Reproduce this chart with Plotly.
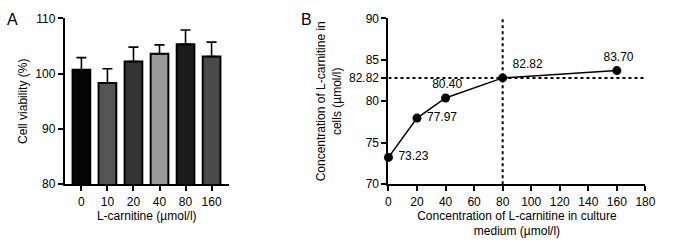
import plotly.graph_objects as go

# Panel A data
doses = ["0", "10", "20", "40", "80", "160"]
viability = [100.7, 98.3, 102.2, 103.6, 105.3, 103.1]
viability_err = [2.2, 2.6, 2.6, 1.6, 2.6, 2.6]
bar_colors = ["#050505", "#555555", "#333333", "#9a9a9a", "#1c1c1c", "#4a4a4a"]

# Panel B data
medium_conc = [0, 20, 40, 80, 160]
cell_conc = [73.23, 77.97, 80.40, 82.82, 83.70]
point_labels = ["73.23", "77.97", "80.40", "82.82", "83.70"]
label_pos = ["middle right", "middle right", "top center", "top right", "top center"]
ref_x = 80
ref_y = 82.82
b_yticks = [70, 75, 80, 82.82, 85, 90]
b_xticks = [0, 20, 40, 60, 80, 100, 120, 140, 160, 180]

FONT = "Liberation Sans, Arial, sans-serif"
FS = 12

fig = go.Figure()

fig.add_trace(go.Bar(
    x=doses, y=viability, base=0,
    marker=dict(color=bar_colors, line=dict(color="black", width=2)),
    width=0.68,
    error_y=dict(type="data", array=viability_err, symmetric=False,
                 arrayminus=[0]*len(viability_err),
                 color="black", thickness=1.6, width=5),
    xaxis="x", yaxis="y", showlegend=False,
))

# reference dotted lines in panel B
fig.add_trace(go.Scatter(
    x=[0, 180], y=[ref_y, ref_y], mode="lines",
    line=dict(color="black", width=2, dash="dot"),
    xaxis="x2", yaxis="y2", showlegend=False, hoverinfo="skip",
))
fig.add_trace(go.Scatter(
    x=[ref_x, ref_x], y=[70, 90], mode="lines",
    line=dict(color="black", width=2, dash="dot"),
    xaxis="x2", yaxis="y2", showlegend=False, hoverinfo="skip",
))

fig.add_trace(go.Scatter(
    x=medium_conc, y=cell_conc, mode="lines+markers+text",
    line=dict(color="black", width=1.5),
    marker=dict(color="black", size=9),
    text=[" " + t for t in point_labels], textposition=label_pos,
    textfont=dict(size=FS, color="black", family=FONT),
    xaxis="x2", yaxis="y2", showlegend=False, cliponaxis=False,
))

axis_common = dict(showline=True, linecolor="black", linewidth=2,
                   ticks="outside", tickcolor="black", tickwidth=2, ticklen=5,
                   showgrid=False, zeroline=False,
                   tickfont=dict(size=FS, color="black", family=FONT))

fig.update_layout(
    width=677, height=242,
    margin=dict(l=0, r=0, t=0, b=0),
    paper_bgcolor="white", plot_bgcolor="white",
    font=dict(family=FONT, size=FS, color="black"),
    xaxis=dict(domain=[0.093, 0.340], anchor="y", range=[-0.64, 5.66],
               type="category",
               title=dict(text="L-carnitine (µmol/l)", standoff=3,
                          font=dict(size=FS)),
               **axis_common),
    yaxis=dict(domain=[0.223, 0.950], anchor="x", range=[80, 110],
               tickvals=[80, 90, 100, 110],
               title=dict(text="Cell viability (%)", standoff=5,
                          font=dict(size=FS)),
               **axis_common),
    xaxis2=dict(domain=[0.5805, 0.9675], anchor="y2", range=[0, 180],
                tickvals=b_xticks,
                title=dict(text="Concentration of L-carnitine in culture<br>medium (µmol/l)",
                           standoff=3, font=dict(size=FS)),
                **axis_common),
    yaxis2=dict(domain=[0.223, 0.950], anchor="x2", range=[70, 90],
                tickvals=b_yticks, ticktext=["70", "75", "80", "82.82", "85", "90"],
                title=dict(text="Concentration of L-carnitine in<br>cells (µmol/l)",
                           standoff=5, font=dict(size=FS)),
                **axis_common),
    annotations=[
        dict(text="A", x=0.014, y=0.99, xref="paper", yref="paper",
             showarrow=False, font=dict(size=16, color="black"), xanchor="center", yanchor="top"),
        dict(text="B", x=0.457, y=0.99, xref="paper", yref="paper",
             showarrow=False, font=dict(size=16, color="black"), xanchor="center", yanchor="top"),
    ],
)

fig.write_html(
    "out.html",
    config={"displayModeBar": False},
    post_script=("document.documentElement.style.margin='0';"
                 "document.body.style.margin='0';"
                 "document.documentElement.style.overflow='hidden';"
                 "document.body.style.overflow='hidden';"),
)
